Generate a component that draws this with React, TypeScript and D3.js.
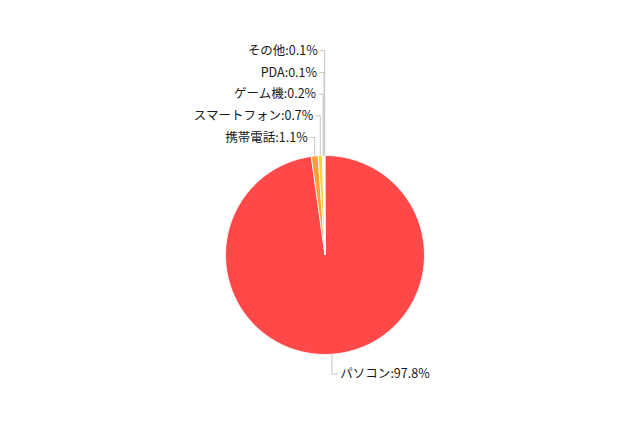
import React from "react";
import * as d3 from "d3";

const categories = ["パソコン", "携帯電話", "スマートフォン", "ゲーム機", "PDA", "その他"];
const values = [97.8, 1.1, 0.7, 0.2, 0.1, 0.1];
const colors = ["#FF4848", "#F7A035", "#F9D23C", "#F2F2E8", "#E8E8E8", "#DADADA"];

const W = 640;
const H = 426;
const cx = 325;
const cy = 255;
const R = 99.5;

export default function App() {
  const data = categories.map((c, i) => ({ name: c, value: values[i], color: colors[i] }));
  const pie = d3.pie<any>().value((d: any) => d.value).sort(null).startAngle(0).endAngle(2 * Math.PI);
  const arcs = pie(data);
  const arcGen = d3.arc<any>().innerRadius(0).outerRadius(R);

  const leftArcs = arcs.filter((a) => (a.startAngle + a.endAngle) / 2 > Math.PI);
  const rightArcs = arcs.filter((a) => (a.startAngle + a.endAngle) / 2 <= Math.PI);
  const font = "'Noto Sans CJK JP', 'DejaVu Sans', sans-serif";

  const labelEls: any[] = [];
  leftArcs.forEach((a, i) => {
    const mid = (a.startAngle + a.endAngle) / 2;
    const x = cx + R * Math.sin(mid);
    const y = cy - R * Math.cos(mid);
    const ly = 137.5 - i * 21.7;
    labelEls.push(
      <g key={"l" + i}>
        <polyline
          points={`${x - 4.5},${ly} ${x},${ly} ${x},${y}`}
          fill="none"
          stroke="#C4C4C4"
          strokeWidth={1}
        />
        <text x={x - 7} y={ly} dy="0.35em" textAnchor="end" fontSize={12.5} fill="#1a1a1a" fontFamily={font}>
          {a.data.name}:{a.data.value.toFixed(1)}%
        </text>
      </g>
    );
  });
  rightArcs.forEach((a, i) => {
    const mid = (a.startAngle + a.endAngle) / 2;
    const x = cx + R * Math.sin(mid);
    const y = cy - R * Math.cos(mid);
    const ly = 374 + i * 21.7;
    labelEls.push(
      <g key={"r" + i}>
        <polyline
          points={`${x},${y} ${x},${ly} ${x + 6},${ly}`}
          fill="none"
          stroke="#C4C4C4"
          strokeWidth={1}
        />
        <text x={x + 8.5} y={ly} dy="0.35em" textAnchor="start" fontSize={12.5} fill="#1a1a1a" fontFamily={font}>
          {a.data.name}:{a.data.value.toFixed(1)}%
        </text>
      </g>
    );
  });

  return (
    <svg width={W} height={H} style={{ position: "absolute", left: 0, top: 0, background: "#fff" }}>
      <rect width={W} height={H} fill="#fff" />
      <g transform={`translate(${cx},${cy})`}>
        {arcs.map((a, i) => (
          <path key={i} d={arcGen(a) as string} fill={a.data.color} stroke="#fff" strokeWidth={0.8} />
        ))}
      </g>
      {labelEls}
    </svg>
  );
}
